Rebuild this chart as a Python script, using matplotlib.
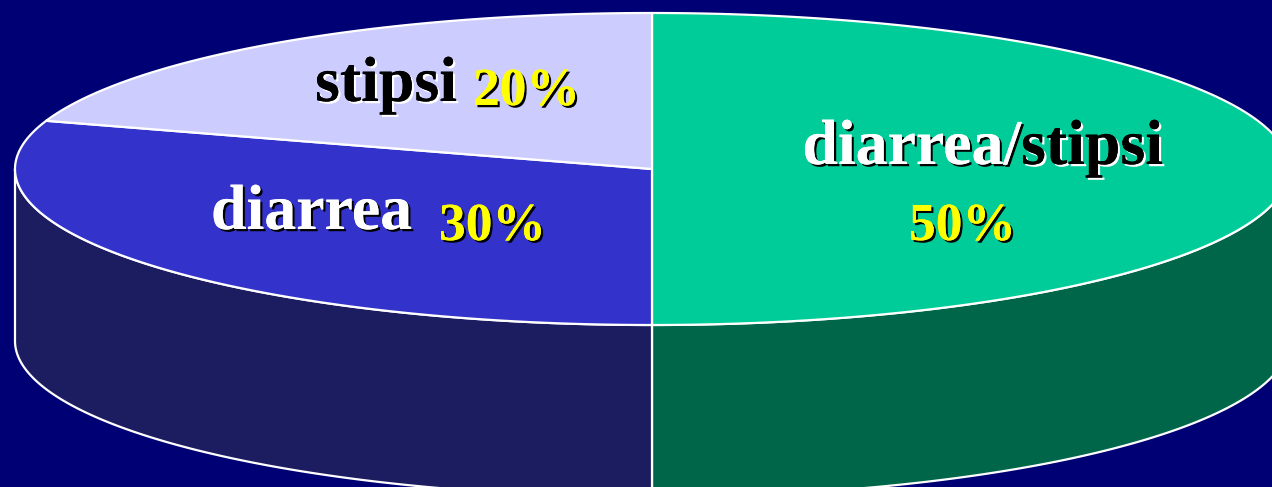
import numpy as np
import matplotlib
matplotlib.use("Agg")
import matplotlib.pyplot as plt
from matplotlib.patches import Polygon
import matplotlib.patheffects as pe

# Slice data (clockwise from 12 o'clock)
labels = ["diarrea/stipsi", "diarrea", "stipsi"]
shares = [50, 30, 20]
top_colors = ["#00CC99", "#3333CC", "#CCCCFF"]
side_colors = ["#00664A", "#1C1C60", "#8A8AC0"]

W, H = 1272, 487
fig = plt.figure(figsize=(W / 100, H / 100), dpi=100)
fig.patch.set_facecolor("#000075")
ax = fig.add_axes([0, 0, 1, 1])
ax.set_xlim(0, W)
ax.set_ylim(H, 0)
ax.axis("off")

# Ellipse geometry of the disc (pixel units)
cx, cy = 652, 169
a, b = 637, 156
depth = 172


def arc(t1, t2, dy=0.0, n=200):
    t = np.radians(np.linspace(t1, t2, n))
    return np.column_stack([cx + a * np.cos(t), cy - b * np.sin(t) + dy])


# angles of each wedge, going clockwise from 90 degrees
fracs = np.array(shares, dtype=float) / sum(shares)
ends = 90 - 360 * np.cumsum(fracs)
starts = np.concatenate([[90], ends[:-1]])

# side walls: only the front half (180..360 deg) is visible
for s, e, col in zip(starts, ends, side_colors):
    lo, hi = e % 360, s % 360
    if hi <= lo:
        hi += 360
    t1, t2 = max(lo, 180), min(hi, 360)
    if t2 > t1:
        top = arc(t1, t2)
        bot = arc(t2, t1, dy=depth)
        ax.add_patch(Polygon(np.vstack([top, bot]), closed=True,
                             facecolor=col, edgecolor="white", lw=1.6,
                             joinstyle="round"))

# top faces
for s, e, col in zip(starts, ends, top_colors):
    pts = np.vstack([[cx, cy], arc(s, e)])
    ax.add_patch(Polygon(pts, closed=True, facecolor=col,
                         edgecolor="white", lw=1.6, joinstyle="round"))


def shadow_text(x, y, txt, color, shadow, size, ha="left"):
    ax.text(x, y, txt, color=color, fontsize=size, ha=ha, va="baseline",
            family="Liberation Serif", fontweight="bold",
            path_effects=[pe.withSimplePatchShadow(offset=(1.6, -1.6),
                                                   shadow_rgbFace=shadow,
                                                   alpha=1.0),
                          pe.Normal()])


name_size = 46
pct_size = 38.5

shadow_text(315, 101, "stipsi", "black", "white", name_size)
shadow_text(473, 105, f"{shares[2]}%", "#FFFF00", "black", pct_size)

shadow_text(211, 229, "diarrea", "white", "black", name_size)
shadow_text(439, 240, f"{shares[1]}%", "#FFFF00", "black", pct_size)

shadow_text(1021, 164, "diarrea/", "white", "black", name_size, ha="right")
shadow_text(1021, 164, "stipsi", "black", "white", name_size)
shadow_text(909, 240, f"{shares[0]}%", "#FFFF00", "black", pct_size)

fig.savefig("out.png", dpi=100, facecolor=fig.get_facecolor())
